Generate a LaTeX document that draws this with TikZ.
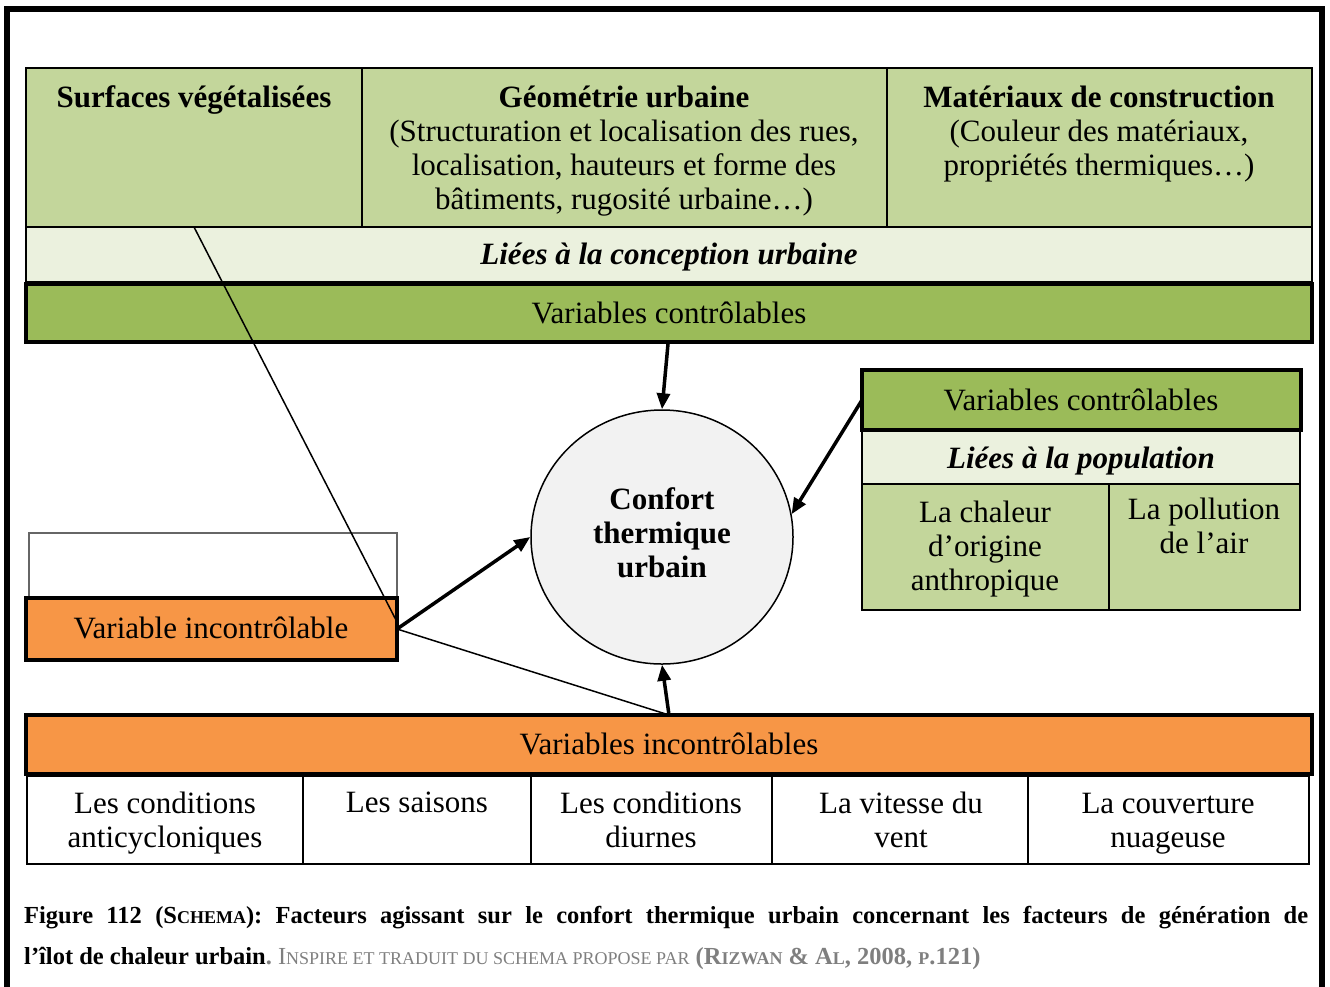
\documentclass[tikz,border=0pt]{standalone}
\usepackage{fontspec}
\setmainfont{Liberation Serif}
\usetikzlibrary{arrows.meta,shapes.geometric}
\definecolor{lgreen}{HTML}{C3D69B}
\definecolor{pgreen}{HTML}{EBF1DE}
\definecolor{mgreen}{HTML}{9BBB59}
\definecolor{orng}{HTML}{F79646}
\definecolor{circ}{HTML}{F2F2F2}
\definecolor{capgray}{HTML}{7F7F7F}
\newcommand\bx[6]{\node[#1,minimum width={(#4)-(#2)},minimum height={(#5)-(#3)}] (#6) at (#2,#3) {};}
\newcommand\smc[1]{{\fontsize{18}{41}\selectfont #1}}
\newcommand\bodyfont{\fontsize{31}{34}\selectfont}
\begin{document}
\begin{tikzpicture}[x=1pt,y=-1pt,
 cell/.style={draw=black, line width=1.5pt, anchor=north west, inner sep=0pt, outer sep=0pt},
 heavy/.style={draw=black, line width=4.5pt, anchor=north west, inner sep=0pt, outer sep=0pt},
 txt/.style={font=\bodyfont, align=center, inner sep=0pt, anchor=base},
 arr/.style={line width=3.5pt, -{Triangle[length=16pt,width=13pt]}},
 thinline/.style={line width=1.5pt}]
\useasboundingbox (0,0) rectangle (1330,986);
% outer frame
\draw[line width=6pt] (7,990) -- (7,9) -- (1321.5,9) -- (1321.5,990);
% top table
\bx{cell,fill=lgreen}{26}{68}{362}{227}{surf}
\bx{cell,fill=lgreen}{362}{68}{887}{227}{geom}
\bx{cell,fill=lgreen}{887}{68}{1312}{227}{mat}
\bx{cell,fill=pgreen}{26}{227}{1312}{282}{lcu}
\bx{heavy,fill=mgreen}{26}{284}{1312}{342}{vct}
\node[txt,font=\bodyfont\bfseries] (surft) at (194,107) {Surfaces végétalisées};
\node[txt] (geomt) at (624,209) {\textbf{Géométrie urbaine}\\(Structuration et localisation des rues,\\localisation, hauteurs et forme des\\bâtiments, rugosité urbaine\dots)};
\node[txt] (matt) at (1099,175) {\textbf{Matériaux de construction}\\(Couleur des matériaux,\\propriétés thermiques\dots)};
\node[txt,font=\bodyfont\bfseries\itshape] (lcut) at (669,264) {Liées à la conception urbaine};
\node[txt] (vctt) at (669,323) {Variables contrôlables};
% circle
\node[ellipse, draw=black, line width=1.5pt, fill=circ, minimum width=262pt, minimum height=254pt, inner sep=0pt] (conf) at (662,537) {};
\node[txt,font=\bodyfont\bfseries] (conft) at (662,577) {Confort\\thermique\\urbain};
% right block
\bx{heavy,fill=mgreen}{862}{370}{1301}{430}{vcr}
\bx{cell,fill=pgreen}{862}{431}{1300}{484}{lpop}
\bx{cell,fill=lgreen}{862}{484}{1109}{610}{chal}
\bx{cell,fill=lgreen}{1109}{484}{1300}{610}{poll}
\node[txt] (vcrt) at (1081,410) {Variables contrôlables};
\node[txt,font=\bodyfont\bfseries\itshape] (lpopt) at (1081,468) {Liées à la population};
\node[txt] (chalt) at (985,590) {La chaleur\\d’origine\\anthropique};
\node[txt] (pollt) at (1204,553) {La pollution\\de l’air};
% left block
\bx{cell,draw=black!60,line width=1.3pt,fill=white}{29}{533}{397}{598}{blank}
\bx{heavy,fill=orng}{26}{598}{397}{660}{vi}
\node[txt] (vit) at (211,638) {Variable incontrôlable};
% bottom block
\bx{heavy,fill=orng}{26}{715}{1312}{774}{vib}
\node[txt] (vibt) at (669,754) {Variables incontrôlables};
\bx{cell,fill=white}{27}{776}{303}{864}{b1}
\bx{cell,fill=white}{303}{776}{531}{864}{b2}
\bx{cell,fill=white}{531}{776}{772}{864}{b3}
\bx{cell,fill=white}{772}{776}{1028}{864}{b4}
\bx{cell,fill=white}{1028}{776}{1309}{864}{b5}
\node[txt] (b1t) at (165,847) {Les conditions\\anticycloniques};
\node[txt] (b2t) at (417,812) {Les saisons};
\node[txt] (b3t) at (651,847) {Les conditions\\diurnes};
\node[txt] (b4t) at (901,847) {La vitesse du\\vent};
\node[txt] (b5t) at (1168,847) {La couverture\\nuageuse};
% connectors
\coordinate (vcbot) at (668,344);
\coordinate (vtip) at (396,620);
\draw[arr] (vcbot) -- (conf.north);
\draw[arr] (vcr.west) -- (conf.10);
\draw[arr] (vi.east) -- (conf.west);
\draw[arr] (vib.north) -- (conf.south);
\draw[thinline] (vi.east) -- (vib.north);
\draw[thinline] (surf.south) -- (vtip);
% caption
\node[anchor=base west, inner sep=0pt, text width=1284pt, align=justify, font=\fontsize{24.5}{41}\selectfont\bfseries] (cap) at (24,923)
{\tolerance=9999 Figure 112 (S\smc{CHEMA}): Facteurs agissant sur le confort thermique urbain concernant les facteurs de génération de\linebreak l’îlot de chaleur urbain{\color{capgray}.\mdseries\ I\smc{NSPIRE ET TRADUIT DU SCHEMA PROPOSE PAR} \bfseries(R\smc{IZWAN} \& A\smc{L}, 2008, \smc{P}.121)}};
\end{tikzpicture}
\end{document}
